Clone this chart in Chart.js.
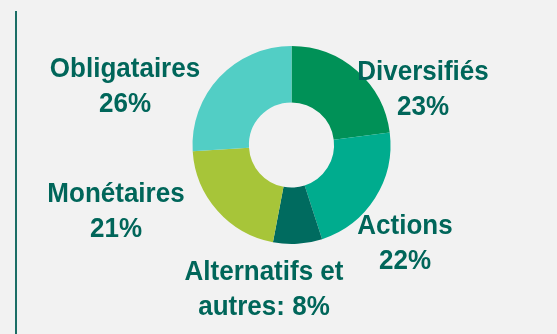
<!DOCTYPE html>
<html>
<head>
<meta charset="utf-8">
<script src="https://cdn.jsdelivr.net/npm/chart.js@4"></script>
<style>
  html, body { margin: 0; padding: 0; background: #f2f2f2; }
  #wrap { width: 557px; height: 334px; position: relative; }
</style>
</head>
<body>
<div id="wrap"><canvas id="myChart" width="557" height="334"></canvas></div>
<script>
const categories = ['Diversifiés', 'Actions', 'Alternatifs et autres', 'Monétaires', 'Obligataires'];
const values = [23, 22, 8, 21, 26];
const colors = ['#009157', '#00ac8e', '#006b5f', '#a7c539', '#52cec5'];

// text lines for each slice label, value is appended from the values array
const labelLines = [
    ['Diversifiés', '{v}%'],
    ['Actions', '{v}%'],
    ['Alternatifs et', 'autres: {v}%'],
    ['Monétaires', '{v}%'],
    ['Obligataires', '{v}%']
];
// where each label sits, relative to the doughnut centre (first baseline)
const labelOffsets = [
    [131.5, -65],
    [113.5, 89],
    [-27.5, 135],
    [-175.5, 57],
    [-166.5, -68]
];

const textColor = '#00665a';

const sideLine = {
    id: 'sideLine',
    beforeDraw(chart) {
        const ctx = chart.ctx;
        ctx.save();
        ctx.fillStyle = '#f2f2f2';
        ctx.fillRect(0, 0, chart.width, chart.height);
        ctx.strokeStyle = '#1b6e66';
        ctx.lineWidth = 2;
        ctx.beginPath();
        ctx.moveTo(16, 11);
        ctx.lineTo(16, chart.height);
        ctx.stroke();
        ctx.restore();
    }
};

const sliceLabels = {
    id: 'sliceLabels',
    afterDraw(chart) {
        const ctx = chart.ctx;
        const arc = chart.getDatasetMeta(0).data[0];
        const cx = arc.x, cy = arc.y;
        const sx = 26 / 27; // slightly narrower glyphs
        ctx.save();
        ctx.fillStyle = textColor;
        ctx.font = 'bold 27px "Liberation Sans", Arial, sans-serif';
        ctx.textAlign = 'center';
        ctx.textBaseline = 'alphabetic';
        ctx.scale(sx, 1);
        labelLines.forEach((lines, i) => {
            const [dx, dy] = labelOffsets[i];
            lines.forEach((t, j) => {
                ctx.fillText(t.replace('{v}', values[i]), (cx + dx) / sx, cy + dy + j * 35);
            });
        });
        ctx.restore();
    }
};

const ctx = document.getElementById('myChart').getContext('2d');
const myChart = new Chart(ctx, {
    type: 'doughnut',
    data: {
        labels: categories,
        datasets: [{
            data: values,
            backgroundColor: colors,
            borderWidth: 0
        }]
    },
    options: {
        responsive: false,
        animation: false,
        cutout: '43%',
        layout: {
            padding: { top: 46, bottom: 90, left: 192, right: 166 }
        },
        plugins: {
            legend: { display: false },
            tooltip: { enabled: false }
        }
    },
    plugins: [sideLine, sliceLabels]
});
</script>
</body>
</html>
